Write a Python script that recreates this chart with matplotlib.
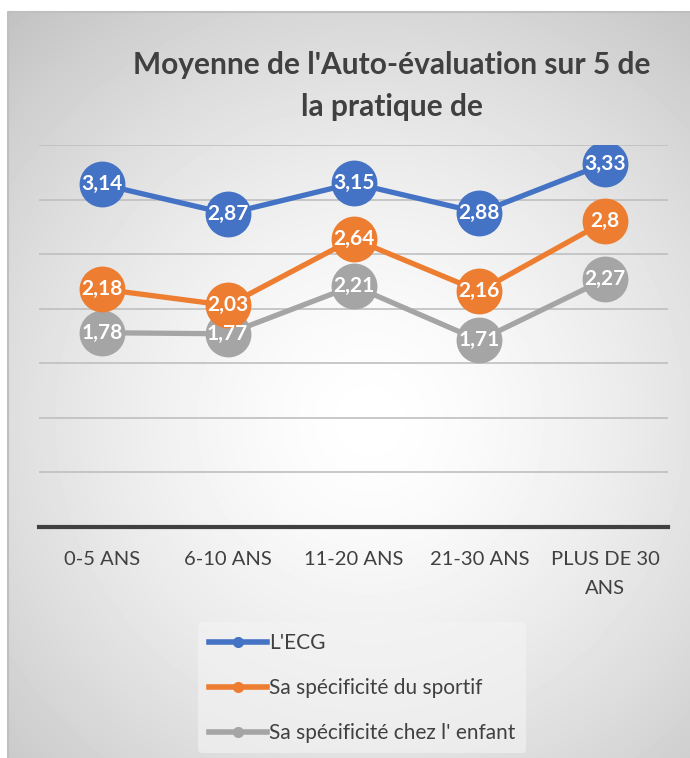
import numpy as np
import matplotlib
matplotlib.use("Agg")
import matplotlib.pyplot as plt
from matplotlib.lines import Line2D

plt.rcParams['font.family'] = ['Lato', 'DejaVu Sans']

categories = ["0-5 ANS", "6-10 ANS", "11-20 ANS", "21-30 ANS", "PLUS DE 30\nANS"]
series_names = ["L'ECG", "Sa spécificité du sportif", "Sa spécificité chez l' enfant"]
ecg = [3.14, 2.87, 3.15, 2.88, 3.33]
sportif = [2.18, 2.03, 2.64, 2.16, 2.80]
enfant = [1.78, 1.77, 2.21, 1.71, 2.27]
colors = ["#4472C4", "#ED7D31", "#A5A5A5"]
title = "Moyenne de l'Auto-évaluation sur 5 de\nla pratique de"

W, H = 690, 758
fig = plt.figure(figsize=(W / 100, H / 100), dpi=100)

# radial gradient background of the chart area
bg = fig.add_axes([0, 0, 1, 1])
bg.set_xlim(0, W)
bg.set_ylim(H, 0)
bg.axis('off')
x0, y0 = 8, 12
xx, yy = np.meshgrid(np.arange(x0, W), np.arange(y0, H))
r = np.hypot(xx - 370, yy - 420) / 560
shade = 1 - 0.25 * np.clip(r, 0, 1) ** 1.5
bg.imshow(shade, cmap='gray', vmin=0, vmax=1, extent=(x0, W, H, y0), aspect='auto')
bg.plot([x0, x0, W], [H, y0, y0], color="#BFBFBF", lw=1.5)

ax = fig.add_axes([39 / W, 1 - 527 / H, (668 - 39) / W, (527 - 145) / H])
ax.patch.set_alpha(0)
ax.set_xlim(-0.5, 4.5)
ax.set_ylim(0, 3.5)
ax.set_yticks(np.arange(0.5, 3.51, 0.5))
ax.yaxis.grid(True, color="#BFBFBF", lw=1.2)
ax.tick_params(axis='y', left=False, labelleft=False)
ax.tick_params(axis='x', length=0, pad=17, labelsize=14.5, labelcolor="#404040")
for s in ['top', 'right', 'left']:
    ax.spines[s].set_visible(False)
ax.spines['bottom'].set_color("#404040")
ax.spines['bottom'].set_linewidth(3)
ax.set_axisbelow(True)

x = np.arange(len(categories))
for vals, c in [(enfant, colors[2]), (sportif, colors[1]), (ecg, colors[0])]:
    ax.plot(x, vals, color=c, lw=3.8, marker='o', markersize=32, zorder=3)
    for xi, v in zip(x, vals):
        ax.text(xi, v, f"{v:g}".replace('.', ','), color='white', fontsize=15,
                fontweight='bold', ha='center', va='center', zorder=4)

ax.set_xticks(x)
ax.set_xticklabels(categories, linespacing=1.85)

fig.text(392 / W, 1 - 86 / H, title, ha='center', va='center', fontsize=21.5,
         fontweight='bold', color="#404040", linespacing=1.65)

handles = [Line2D([], [], color=c, lw=4, marker='o', markersize=7) for c in colors]
leg = fig.legend(handles, series_names, loc='upper left', bbox_to_anchor=(188 / W, 1 - 612 / H),
                 frameon=True, fontsize=15, handlelength=2.8, handletextpad=0.1,
                 labelspacing=1.2, borderpad=0.5)
leg.get_frame().set_facecolor("#F4F4F4")
leg.get_frame().set_edgecolor("none")
leg.get_frame().set_alpha(0.6)
for t in leg.get_texts():
    t.set_color("#404040")

fig.savefig("out.png", dpi=100)
